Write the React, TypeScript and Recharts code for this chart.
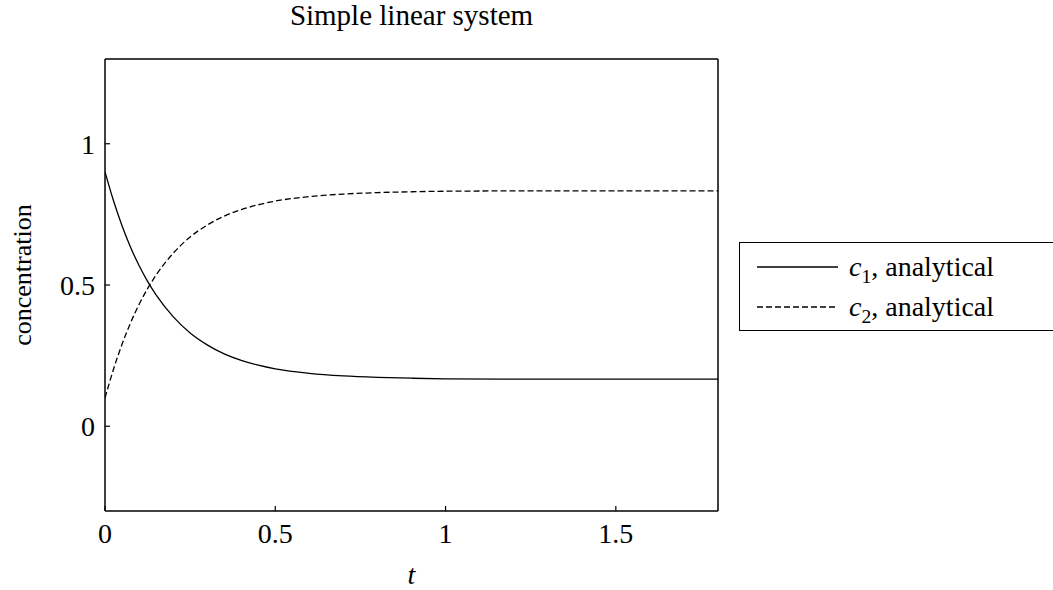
import { Legend, Line, LineChart, XAxis, YAxis } from "recharts";

const times = [
  0, 0.025, 0.05, 0.075, 0.1, 0.125, 0.15, 0.2, 0.25, 0.3, 0.35, 0.4, 0.45,
  0.5, 0.6, 0.7, 0.8, 0.9, 1.0, 1.2, 1.4, 1.6, 1.8,
];
const c1Values = [
  0.9, 0.798, 0.71, 0.634, 0.569, 0.513, 0.465, 0.388, 0.33, 0.288, 0.256,
  0.233, 0.216, 0.203, 0.187, 0.178, 0.173, 0.17, 0.168, 0.167, 0.167, 0.167,
  0.167,
];
const c2Values = [
  0.1, 0.202, 0.29, 0.366, 0.431, 0.487, 0.535, 0.612, 0.67, 0.712, 0.744,
  0.767, 0.784, 0.797, 0.813, 0.822, 0.827, 0.83, 0.832, 0.833, 0.833, 0.833,
  0.833,
];
const xTicks = [0, 0.5, 1, 1.5];
const yTicks = [0, 0.5, 1];

const data = times.map((t, i) => ({ t, c1: c1Values[i], c2: c2Values[i] }));

const FONT = '"Liberation Serif", "DejaVu Serif", serif';
const tickStyle = { fill: "#000", fontSize: 28, fontFamily: FONT };
const axisLine = { stroke: "#000", strokeWidth: 1.5 };
const tickLine = { stroke: "#000", strokeWidth: 1.2 };

function LegendBox() {
  const rows = [
    { sub: "1", dash: undefined },
    { sub: "2", dash: "6 3" },
  ];
  return (
    <div
      style={{
        background: "#fff",
        border: "1.5px solid #000",
        borderRight: "none",
        boxSizing: "border-box",
        fontFamily: FONT,
        fontSize: 28,
        height: 89,
        paddingLeft: 17,
        paddingTop: 4,
        width: 314,
      }}
    >
      {rows.map((row) => (
        <div
          key={row.sub}
          style={{ alignItems: "center", display: "flex", height: 40 }}
        >
          <svg height={10} width={81}>
            <line
              stroke="#000"
              strokeDasharray={row.dash}
              strokeWidth={1.3}
              x1={0}
              x2={81}
              y1={5}
              y2={5}
            />
          </svg>
          <span style={{ lineHeight: "40px", marginLeft: 11 }}>
            <i>c</i>
            <sub style={{ fontSize: "0.7em", lineHeight: 0 }}>{row.sub}</sub>
            , analytical
          </span>
        </div>
      ))}
    </div>
  );
}

export default function App() {
  return (
    <div
      style={{
        background: "#fff",
        fontFamily: FONT,
        height: 590,
        left: 0,
        overflow: "hidden",
        position: "absolute",
        top: 0,
        width: 1053,
      }}
    >
      <LineChart
        data={data}
        height={590}
        margin={{ bottom: 0, left: 0, right: 0, top: 0 }}
        width={1053}
      >
        <XAxis
          allowDataOverflow
          axisLine={axisLine}
          dataKey="t"
          domain={[0, 1.8]}
          height={79}
          label={{
            fill: "#000",
            fontFamily: FONT,
            fontSize: 28,
            fontStyle: "italic",
            offset: 6,
            position: "insideBottom",
            value: "t",
          }}
          tick={tickStyle}
          tickLine={tickLine}
          tickMargin={17}
          tickSize={-5}
          ticks={xTicks}
          type="number"
          xAxisId="b"
        />
        <XAxis
          allowDataOverflow
          axisLine={axisLine}
          domain={[0, 1.8]}
          height={59}
          label={{
            dy: -14.8,
            fill: "#000",
            fontFamily: FONT,
            fontSize: 29,
            position: "center",
            value: "Simple linear system",
          }}
          orientation="top"
          tick={false}
          tickLine={tickLine}
          tickSize={-5}
          ticks={xTicks}
          type="number"
          xAxisId="top"
        />
        <YAxis
          allowDataOverflow
          axisLine={axisLine}
          domain={[-0.3, 1.3]}
          label={{
            angle: -90,
            dx: -31,
            dy: -10,
            fill: "#000",
            fontFamily: FONT,
            fontSize: 26,
            position: "center",
            value: "concentration",
          }}
          tick={tickStyle}
          tickLine={tickLine}
          tickMargin={15}
          tickSize={-5}
          ticks={yTicks}
          type="number"
          width={105}
          yAxisId="l"
        />
        <YAxis
          allowDataOverflow
          axisLine={axisLine}
          domain={[-0.3, 1.3]}
          orientation="right"
          tick={false}
          tickLine={tickLine}
          tickSize={-5}
          ticks={yTicks}
          type="number"
          width={335}
          yAxisId="r"
        />
        <Line
          dataKey="c1"
          dot={false}
          isAnimationActive={false}
          name="c1, analytical"
          stroke="#000"
          strokeWidth={1.3}
          type="monotone"
          xAxisId="b"
          yAxisId="l"
        />
        <Line
          dataKey="c2"
          dot={false}
          isAnimationActive={false}
          name="c2, analytical"
          stroke="#000"
          strokeDasharray="6 3"
          strokeWidth={1.3}
          type="monotone"
          xAxisId="b"
          yAxisId="l"
        />
        <Legend
          align="center"
          content={() => <LegendBox />}
          layout="horizontal"
          verticalAlign="middle"
          wrapperStyle={{
            height: 89,
            left: 739,
            position: "absolute",
            top: 242,
            width: 314,
          }}
        />
      </LineChart>
    </div>
  );
}
